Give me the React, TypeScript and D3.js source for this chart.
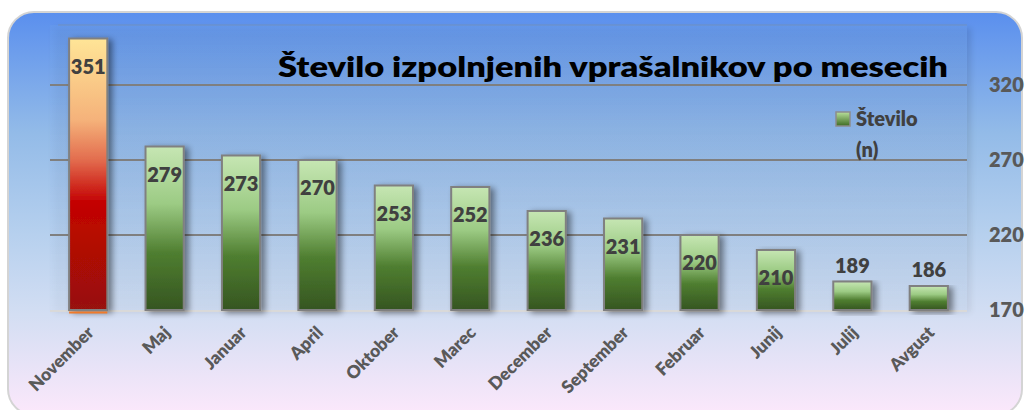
import React from "react";
import * as d3 from "d3";

const categories = ["November", "Maj", "Januar", "April", "Oktober", "Marec", "December", "September", "Februar", "Junij", "Julij", "Avgust"];
const values = [351, 279, 273, 270, 253, 252, 236, 231, 220, 210, 189, 186];
const yTicks = [170, 220, 270, 320];
const title = "Število izpolnjenih vprašalnikov po mesecih";
const legendLabel = ["Število", "(n)"];

const W = 1025, H = 410;
const plot = { left: 50, right: 967, top: 25, bottom: 310 };
const FONT = "Lato, 'Open Sans', sans-serif";

export default function App() {
  const x = d3.scaleBand<string>().domain(categories).range([plot.left, plot.right]).paddingInner(0.5).paddingOuter(0.25);
  const y = d3.scaleLinear().domain([170, 360]).range([plot.bottom, plot.top]);
  const bw = x.bandwidth();

  return (
    <svg width={W} height={H} style={{ position: "absolute", left: 0, top: 0, display: "block" }} fontFamily={FONT}>
      <defs>
        <linearGradient id="bg" x1="0" y1="0" x2="0" y2="1">
          <stop offset="0" stopColor="#5a8fee" />
          <stop offset="0.3" stopColor="#93bbe8" />
          <stop offset="0.55" stopColor="#b6d0ee" />
          <stop offset="0.75" stopColor="#d3def3" />
          <stop offset="1" stopColor="#fce8fb" />
        </linearGradient>
        <linearGradient id="plotbg" x1="0" y1="0" x2="0" y2="1">
          <stop offset="0" stopColor="#6a9de8" stopOpacity="0.35" />
          <stop offset="1" stopColor="#c6daf2" stopOpacity="0.2" />
        </linearGradient>
        <linearGradient id="green" x1="0" y1="0" x2="0" y2="1">
          <stop offset="0" stopColor="#c6e6b3" />
          <stop offset="0.35" stopColor="#9ccb84" />
          <stop offset="0.65" stopColor="#4f7e30" />
          <stop offset="1" stopColor="#355521" />
        </linearGradient>
        <linearGradient id="red" x1="0" y1="0" x2="0" y2="1">
          <stop offset="0" stopColor="#ffe597" />
          <stop offset="0.3" stopColor="#f5b27a" />
          <stop offset="0.45" stopColor="#e26b4d" />
          <stop offset="0.6" stopColor="#c40404" />
          <stop offset="1" stopColor="#971208" />
        </linearGradient>
        <linearGradient id="legsq" x1="0" y1="0" x2="0" y2="1">
          <stop offset="0" stopColor="#b9e09c" />
          <stop offset="1" stopColor="#3d6b22" />
        </linearGradient>
        <filter id="shadow" x="-30%" y="-10%" width="180%" height="130%">
          <feGaussianBlur in="SourceAlpha" stdDeviation="3" />
          <feOffset dx="4" dy="2" result="b" />
          <feComponentTransfer><feFuncA type="linear" slope="0.45" /></feComponentTransfer>
          <feMerge><feMergeNode /><feMergeNode in="SourceGraphic" /></feMerge>
        </filter>
        <filter id="pshadow" x="-5%" y="-5%" width="110%" height="115%">
          <feGaussianBlur in="SourceAlpha" stdDeviation="3" />
          <feOffset dx="4" dy="3" />
          <feComponentTransfer><feFuncA type="linear" slope="0.35" /></feComponentTransfer>
          <feMerge><feMergeNode /><feMergeNode in="SourceGraphic" /></feMerge>
        </filter>
      </defs>

      <rect x={8} y={12} width={1014} height={403} rx={26} ry={26} fill="url(#bg)" stroke="#d4d4d4" strokeWidth={2} />

      {/* plot area */}
      <g filter="url(#pshadow)">
        <rect x={plot.left} y={plot.top} width={plot.right - plot.left} height={plot.bottom - plot.top} fill="url(#plotbg)" />
      </g>
      <line x1={plot.left + 8} x2={plot.right} y1={plot.top} y2={plot.top} stroke="#6f8fc0" strokeOpacity={0.5} strokeWidth={2} />

      {/* gridlines */}
      {yTicks.slice(1).map(t => (
        <line key={t} x1={plot.left} x2={plot.right} y1={y(t)} y2={y(t)} stroke="#7f7f7f" strokeWidth={2} />
      ))}
      <line x1={plot.left} x2={plot.right} y1={y(170) + 1} y2={y(170) + 1} stroke="#d9d9d9" strokeWidth={2} />

      {/* right axis labels */}
      {yTicks.map(t => (
        <text key={t} x={989} y={y(t)} dy="0.35em" fontSize={20} fontWeight={800} fill="#595959">{t}</text>
      ))}

      {/* bars */}
      {values.map((v, i) => {
        const cx = x(categories[i])!;
        return (
          <rect key={i} x={cx} y={y(v)} width={bw} height={y(170) - y(v)}
            fill={i === 0 ? "url(#red)" : "url(#green)"} stroke="#808080" strokeWidth={2} filter="url(#shadow)" />
        );
      })}
      <line x1={x(categories[0])!} x2={x(categories[0])! + bw} y1={y(170) + 2.5} y2={y(170) + 2.5} stroke="#f07a2a" strokeWidth={2} />

      {/* data labels */}
      {values.map((v, i) => {
        const cx = x(categories[i])! + bw / 2;
        const inside = v >= 200;
        const ly = inside ? y(v) + 28 : y(v) - 16;
        return (
          <text key={i} x={cx} y={ly} dy="0.35em" textAnchor="middle" fontSize={20} fontWeight={800} fill="#404040">{v}</text>
        );
      })}

      {/* x labels */}
      {categories.map((c, i) => {
        const cx = x(c)! + bw / 2;
        return (
          <text key={c} transform={`translate(${cx - 2},${325}) rotate(-45)`} textAnchor="end" dy="0.7em" fontSize={17.5} fontWeight={800} fill="#595959">{c}</text>
        );
      })}

      {/* title */}
      <text x={948} y={67} dy="0.35em" textAnchor="end" fontSize={28} fontWeight={800} fill="#000" textLength={670} lengthAdjust="spacingAndGlyphs">{title}</text>

      {/* legend */}
      <rect x={836} y={112} width={14} height={14} fill="url(#legsq)" stroke="#8c8c8c" strokeWidth={1.5} />
      <text x={856} y={119} dy="0.35em" fontSize={20} fontWeight={800} fill="#404040">{legendLabel[0]}</text>
      <text x={856} y={150} dy="0.35em" fontSize={20} fontWeight={800} fill="#404040">{legendLabel[1]}</text>
    </svg>
  );
}
